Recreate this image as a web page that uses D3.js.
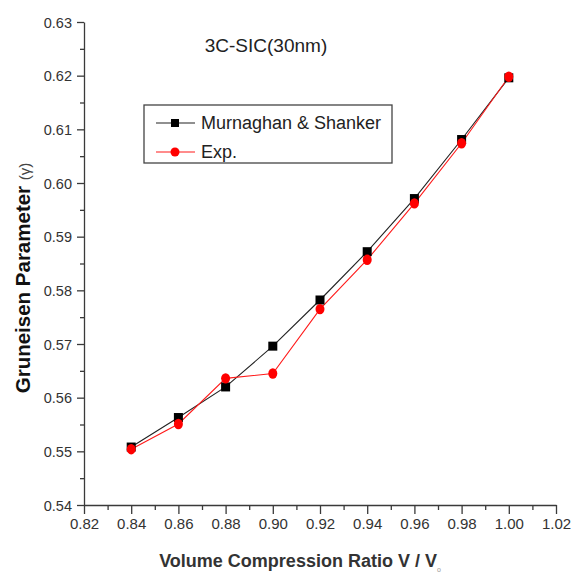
<!DOCTYPE html>
<html>
<head>
<meta charset="utf-8">
<script src="https://cdn.jsdelivr.net/npm/d3@7"></script>
<style>
  body { margin: 0; background: #fff; }
  svg text { font-family: "Liberation Sans Narrow", "Arial Narrow", "Liberation Sans", Arial, sans-serif; }
</style>
</head>
<body>
<div id="chart"></div>
<script>
(function () {
    "use strict";

    // data
    var ratios = [0.84, 0.86, 0.88, 0.90, 0.92, 0.94, 0.96, 0.98, 1.00];
    var murnaghan = [0.5508, 0.5563, 0.5620, 0.5696, 0.5782, 0.5872, 0.5971, 0.6081, 0.6196];
    var expValues = [0.5504, 0.5551, 0.5636, 0.5645, 0.5765, 0.5857, 0.5962, 0.6074, 0.6198];
    var xTicks = [0.82, 0.84, 0.86, 0.88, 0.90, 0.92, 0.94, 0.96, 0.98, 1.00, 1.02];
    var yTicks = [0.54, 0.55, 0.56, 0.57, 0.58, 0.59, 0.60, 0.61, 0.62, 0.63];
    var seriesNames = ["Murnaghan & Shanker", "Exp."];

    var w = 577, h = 574,
        left = 84, right = 556, top = 22, bottom = 505;

    var svg = d3.select("#chart")
        .append("svg")
        .attr("width", w)
        .attr("height", h);

    var x = d3.scaleLinear().domain([0.82, 1.02]).range([left, right]);
    var y = d3.scaleLinear().domain([0.54, 0.63]).range([bottom, top]);

    var axisColor = "#3a3a3a";

    // minor ticks first, then major axes on top
    var xMinor = d3.range(0.83, 1.02, 0.02);
    var yMinor = d3.range(0.545, 0.63, 0.01);

    svg.append("g")
        .attr("class", "x-minor")
        .attr("transform", "translate(0," + bottom + ")")
        .call(d3.axisBottom(x).tickValues(xMinor).tickSize(5).tickFormat(""))
        .call(function (g) { g.select(".domain").remove(); });

    svg.append("g")
        .attr("class", "y-minor")
        .attr("transform", "translate(" + left + ",0)")
        .call(d3.axisLeft(y).tickValues(yMinor).tickSize(4).tickFormat(""))
        .call(function (g) { g.select(".domain").remove(); });

    var xAxis = svg.append("g")
        .attr("transform", "translate(0," + bottom + ")")
        .call(d3.axisBottom(x).tickValues(xTicks).tickSize(9).tickSizeOuter(0).tickPadding(4)
            .tickFormat(d3.format(".2f")));

    var yAxis = svg.append("g")
        .attr("transform", "translate(" + left + ",0)")
        .call(d3.axisLeft(y).tickValues(yTicks).tickSize(7).tickSizeOuter(0).tickPadding(5)
            .tickFormat(d3.format(".2f")));

    svg.selectAll(".tick line, .domain")
        .attr("stroke", axisColor)
        .attr("stroke-width", 1.3);

    xAxis.selectAll(".tick text")
        .attr("font-size", 15)
        .attr("fill", "#333");

    yAxis.selectAll(".tick text")
        .attr("font-size", 14.5)
        .attr("fill", "#333")
        .attr("dy", "0.35em");

    // lines
    var line = function (vals) {
        return d3.line()
            .x(function (d, i) { return x(ratios[i]); })
            .y(function (d) { return y(d); })(vals);
    };

    svg.append("path")
        .attr("d", line(murnaghan))
        .attr("fill", "none")
        .attr("stroke", "#222")
        .attr("stroke-width", 1.1);

    svg.append("path")
        .attr("d", line(expValues))
        .attr("fill", "none")
        .attr("stroke", "#ff1a1a")
        .attr("stroke-width", 1.1);

    svg.selectAll("rect.ms")
        .data(murnaghan)
        .enter()
        .append("rect")
        .attr("class", "ms")
        .attr("x", function (d, i) { return x(ratios[i]) - 4.5; })
        .attr("y", function (d) { return y(d) - 4.5; })
        .attr("width", 9)
        .attr("height", 9)
        .attr("fill", "#000");

    svg.selectAll("ellipse.exp")
        .data(expValues)
        .enter()
        .append("ellipse")
        .attr("class", "exp")
        .attr("cx", function (d, i) { return x(ratios[i]); })
        .attr("cy", function (d) { return y(d); })
        .attr("rx", 4.5)
        .attr("ry", 5.2)
        .attr("fill", "#ff0000");

    // title
    svg.append("text")
        .attr("x", 266)
        .attr("y", 52)
        .attr("text-anchor", "middle")
        .attr("font-size", 19)
        .attr("fill", "#222")
        .text("3C-SIC(30nm)");

    // legend
    var lg = svg.append("g");
    lg.append("rect")
        .attr("x", 144).attr("y", 105)
        .attr("width", 248).attr("height", 58)
        .attr("fill", "#fff")
        .attr("stroke", "#444")
        .attr("stroke-width", 1.3);

    var legendRows = [
        { name: seriesNames[0], color: "#222", y: 123, shape: "square" },
        { name: seriesNames[1], color: "#ff1a1a", y: 152, shape: "circle" }
    ];

    legendRows.forEach(function (r) {
        lg.append("line")
            .attr("x1", 156).attr("x2", 195)
            .attr("y1", r.y).attr("y2", r.y)
            .attr("stroke", r.color)
            .attr("stroke-width", 1.1);
        if (r.shape === "square") {
            lg.append("rect")
                .attr("x", 171).attr("y", r.y - 4)
                .attr("width", 8).attr("height", 8)
                .attr("fill", "#000");
        } else {
            lg.append("circle")
                .attr("cx", 175).attr("cy", r.y)
                .attr("r", 4.5)
                .attr("fill", "#ff0000");
        }
        lg.append("text")
            .attr("x", 201)
            .attr("y", r.y + 6)
            .attr("font-size", 18)
            .attr("fill", "#222")
            .text(r.name);
    });

    // axis titles
    var xt = svg.append("text")
        .attr("x", 300)
        .attr("y", 567)
        .attr("text-anchor", "middle")
        .attr("font-size", 18)
        .attr("font-weight", "bold")
        .attr("fill", "#333");
    xt.append("tspan").text("Volume Compression Ratio V / V");
    xt.append("tspan").attr("font-size", 7).attr("dy", 5).attr("font-weight", "normal").attr("fill", "#999").text("o");

    var yt = svg.append("text")
        .attr("transform", "translate(30,278) rotate(-90)")
        .attr("text-anchor", "middle")
        .attr("font-size", 20.5)
        .attr("font-weight", "bold")
        .attr("fill", "#111");
    yt.append("tspan").text("Gruneisen Parameter ");
    yt.append("tspan").attr("font-size", 15).attr("font-weight", "normal").attr("fill", "#444").text("(\u03b3)");
})();
</script>
</body>
</html>
